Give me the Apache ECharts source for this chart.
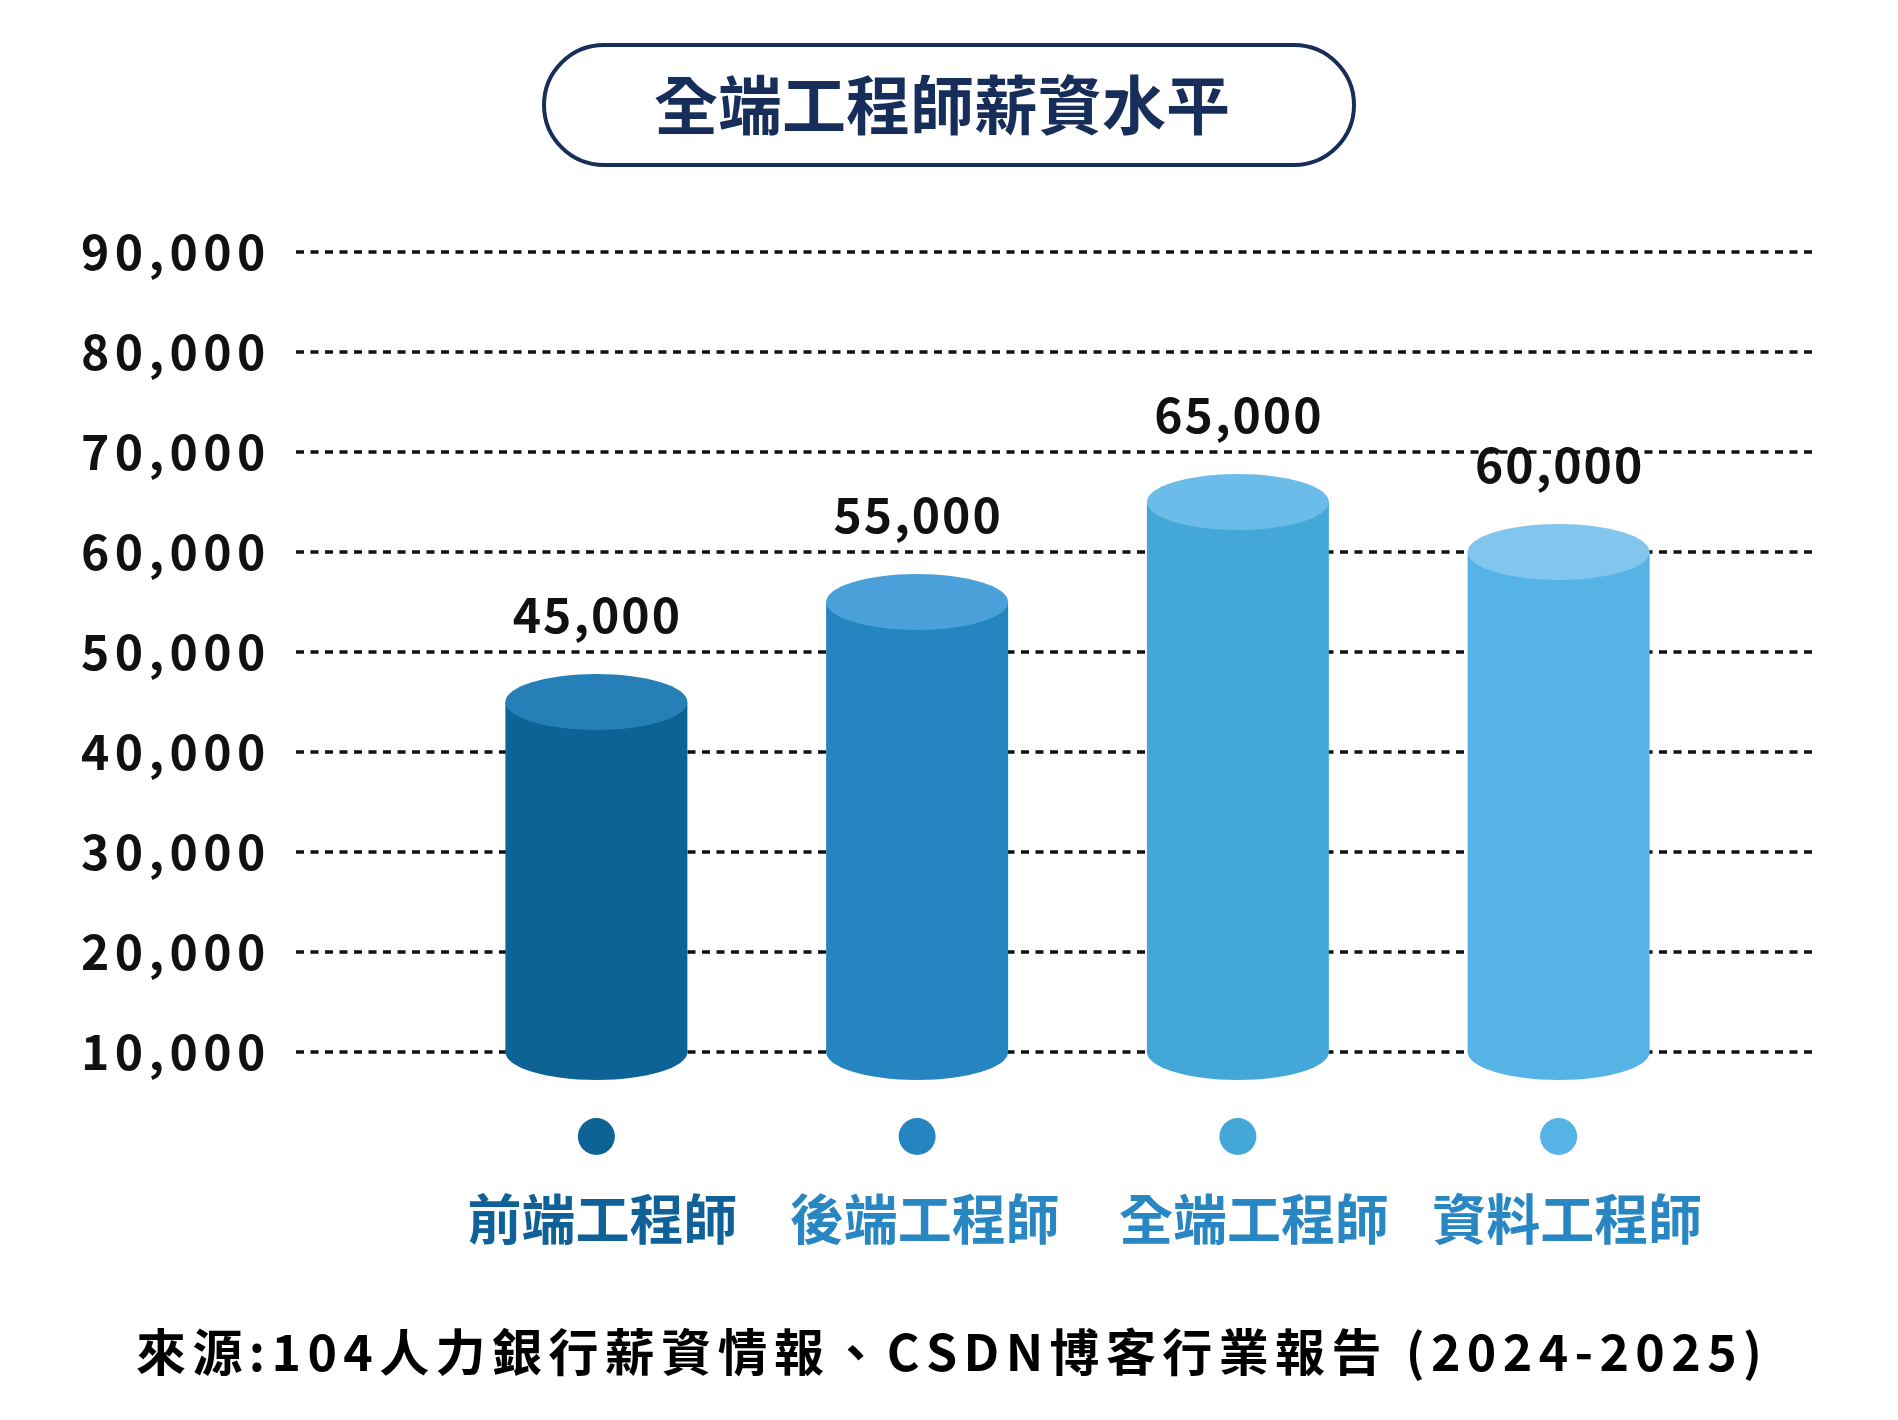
<!DOCTYPE html>
<html>
<head>
<meta charset="utf-8">
<script src="https://cdn.jsdelivr.net/npm/echarts@6/dist/echarts.min.js"></script>
<style>
  html, body { margin: 0; padding: 0; background: #fff; }
  #chart { width: 1898px; height: 1420px; }
</style>
</head>
<body>
<div id="chart"></div>
<script>
// ── data ──────────────────────────────────────────────
const TITLE = '全端工程師薪資水平';
const SOURCE = '來源:104人力銀行薪資情報、CSDN博客行業報告 (2024-2025)';
const categories = ['前端工程師', '後端工程師', '全端工程師', '資料工程師'];
const salaries = [45000, 55000, 65000, 60000];
const yMin = 10000, yMax = 90000, yStep = 10000;

// ── styles ────────────────────────────────────────────
const FONT = '"Noto Sans CJK TC", "Noto Sans CJK SC", sans-serif';
const NAVY = '#172d5a';
const bodyColors = ['#0d6296', '#2585c1', '#43a8d7', '#55b3e5'];
const capColors  = ['#2680b7', '#4aa0d9', '#6bbce9', '#82c6ee'];
const nameColors = ['#0f6197', '#2886c3', '#2886c3', '#2886c3'];
const nameNudge  = [12, 15, 32, 17];   // the names sit a little right of their cylinders

const fmt = (v) => v.toLocaleString('en-US');
// canvas has no letter-spacing, so every glyph becomes a padded rich token
const spaced = (s, key) => Array.from(s).map((ch) => `{${key}|${ch}}`).join('');

const chart = echarts.init(document.getElementById('chart'));

const richNames = {};
categories.forEach((c, i) => {
  richNames['d' + i] = { width: 37, height: 37, lineHeight: 37, borderRadius: 19, backgroundColor: bodyColors[i] };
  richNames['n' + i] = {
    fontFamily: FONT, fontSize: 54, fontWeight: 'bold', color: nameColors[i],
    lineHeight: 129, padding: [0, 0, 0, nameNudge[i]]
  };
});

chart.setOption({
  backgroundColor: '#fff',
  animation: false,
  title: {
    text: TITLE,
    left: 544, top: 45,
    padding: [28, 124, 28, 110],
    borderColor: NAVY, borderWidth: 4, borderRadius: 61,
    textStyle: { fontFamily: FONT, fontSize: 64, lineHeight: 64, fontWeight: 'bold', color: NAVY }
  },
  grid: [
    { left: 296, right: 81, top: 252, bottom: 368 },   // gridlines + y labels
    { left: 436, right: 179, top: 252, bottom: 368 }   // cylinders
  ],
  xAxis: [
    { gridIndex: 0, type: 'value', show: false },
    {
      gridIndex: 1, type: 'category', data: categories,
      axisLine: { show: false }, axisTick: { show: false },
      axisLabel: {
        margin: 66, interval: 0,
        formatter: (v, i) => `{d${i}|}\n{n${i}|${v}}`,
        rich: richNames
      }
    }
  ],
  yAxis: [
    {
      gridIndex: 0, type: 'value', min: yMin, max: yMax, interval: yStep,
      axisLine: { show: false }, axisTick: { show: false },
      splitLine: { lineStyle: { color: '#111', width: 3.5, type: [8, 6.5] } },
      axisLabel: {
        margin: 28,
        formatter: (v) => spaced(fmt(v), 'y'),
        rich: { y: { fontFamily: FONT, fontSize: 48, fontWeight: 'bold', color: '#111', padding: [0, 2.7] } }
      }
    },
    { gridIndex: 1, type: 'value', min: yMin, max: yMax, interval: yStep, show: false }
  ],
  graphic: [{
    type: 'text', left: 'center', top: 1327,
    style: {
      text: spaced(SOURCE, 's'),
      rich: { s: { fontFamily: FONT, fontSize: 50, fontWeight: 'bold', color: '#111', padding: [0, 3.2] } }
    }
  }],
  series: [{
    type: 'custom',
    xAxisIndex: 1, yAxisIndex: 1,
    clip: false,
    data: salaries.map((v, i) => [i, v]),
    renderItem: (params, api) => {
      const i = params.dataIndex;
      const top = api.coord([api.value(0), api.value(1)]);
      const base = api.coord([api.value(0), yMin]);
      const rx = 91, ry = 28;
      return {
        type: 'group',
        children: [
          { type: 'ellipse', shape: { cx: base[0], cy: base[1], rx, ry }, style: { fill: bodyColors[i] } },
          { type: 'rect', shape: { x: top[0] - rx, y: top[1], width: rx * 2, height: base[1] - top[1] }, style: { fill: bodyColors[i] } },
          { type: 'ellipse', shape: { cx: top[0], cy: top[1], rx, ry }, style: { fill: capColors[i] } },
          {
            type: 'text', x: top[0], y: top[1] - 87,
            style: {
              text: spaced(fmt(api.value(1)), 'v'),
              align: 'center', verticalAlign: 'middle',
              rich: { v: { fontFamily: FONT, fontSize: 48, fontWeight: 'bold', fill: '#111', padding: [0, 1] } }
            }
          }
        ]
      };
    }
  }]
});
</script>
</body>
</html>
